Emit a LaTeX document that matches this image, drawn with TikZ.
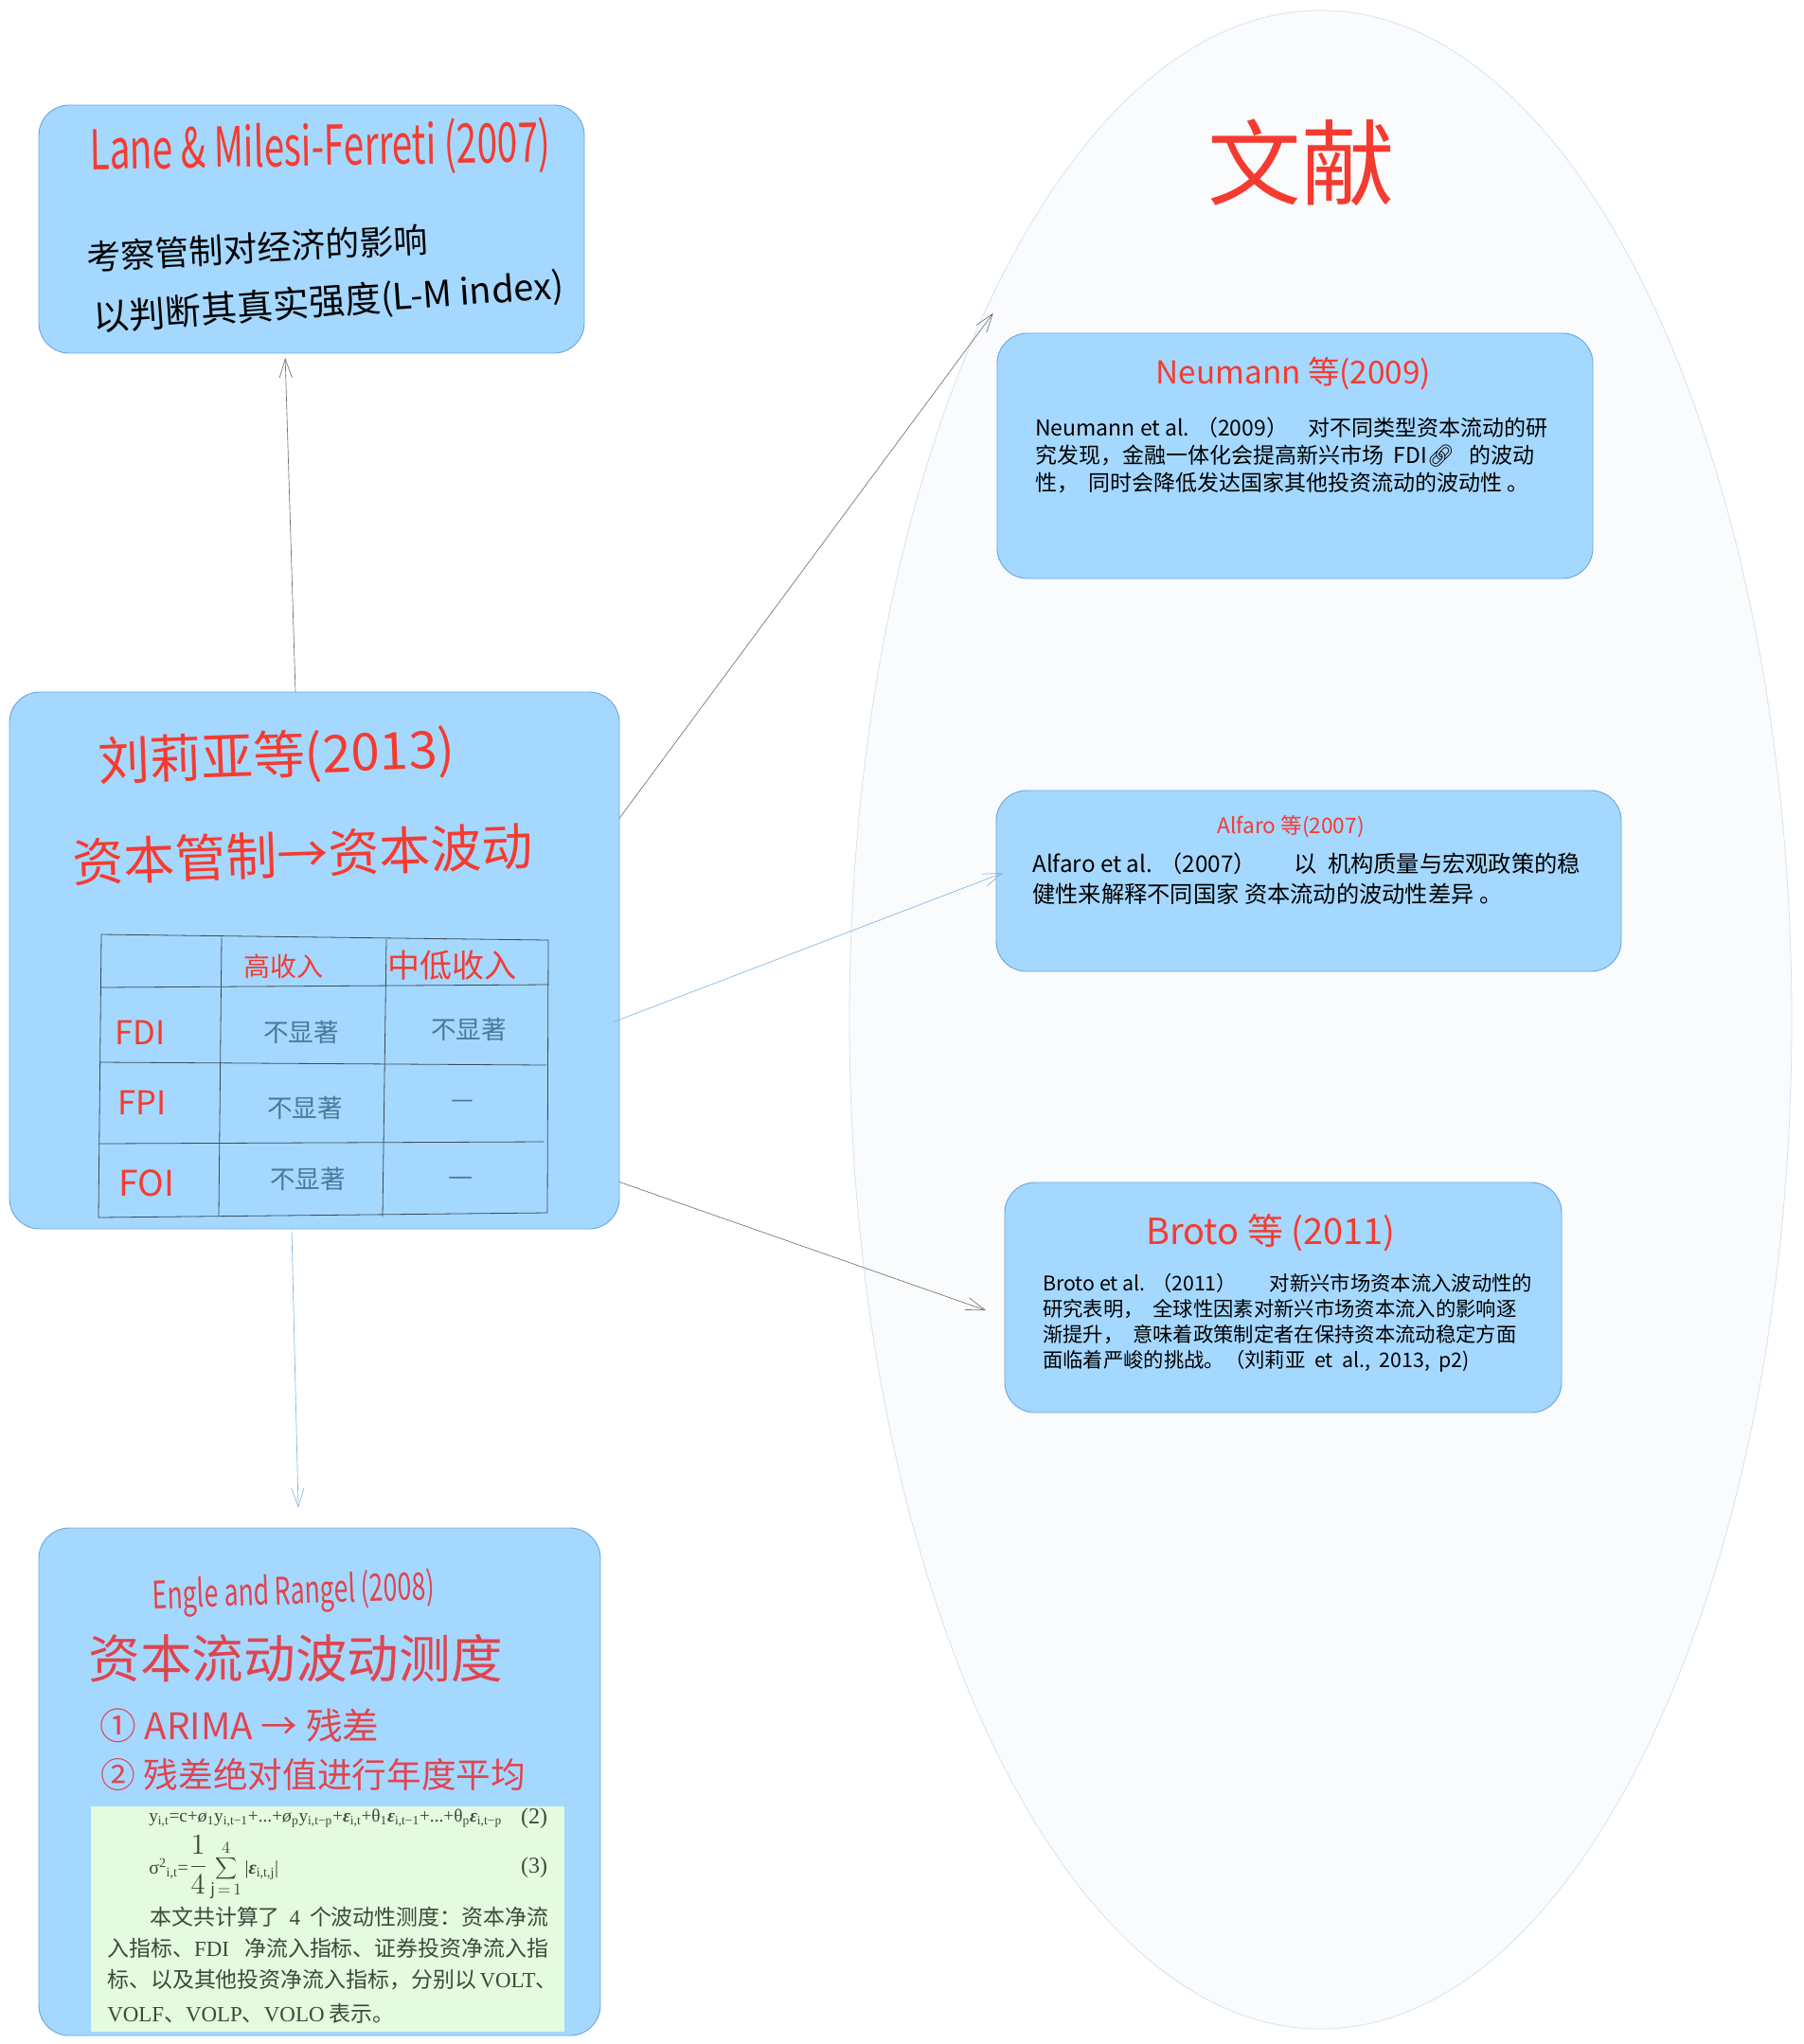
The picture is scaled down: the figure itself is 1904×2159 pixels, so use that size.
\documentclass[tikz,border=0pt]{standalone}
\usepackage{fontspec}
\setmainfont{Noto Sans CJK SC}
\newfontfamily\timesfont{Liberation Serif}
\newfontfamily\emojifont{Noto Emoji}
\usetikzlibrary{arrows.meta,fit}
\definecolor{boxblue}{HTML}{A5D8FF}
\definecolor{boxline}{HTML}{6AA8E0}
\definecolor{inkred}{HTML}{F53B30}
\definecolor{inkrose}{HTML}{E0454F}
\definecolor{inkblue}{HTML}{4A7A9A}
\definecolor{paleblue}{HTML}{D3E3F2}
\definecolor{palegreen}{HTML}{E4FBE0}
\definecolor{printink}{HTML}{3C4A3C}
\newcommand{\fsz}[2]{\fontsize{#1}{#2}\selectfont}
\newcommand{\tall}[1]{\scalebox{1}[1.5]{#1}}
\tikzset{
  card/.style={draw=boxline,fill=boxblue,line width=0.7pt,rounded corners=24pt,inner sep=0pt,outer sep=0pt},
  hand/.style={inner sep=0pt,text=inkred},
  note/.style={anchor=north west,inner sep=0pt,align=left,text=black},
  ruling/.style={draw=black!65!boxblue,line width=0.6pt},
  graylink/.style={draw=black!55,line width=0.5pt,-{Straight Barb[length=15pt,width=10pt]}},
  bluelink/.style={draw=boxline!85,line width=0.5pt,-{Straight Barb[length=15pt,width=10pt]}},
  printline/.style={inner sep=0pt,anchor=west,text=printink,font=\fsz{17.2}{20}},
}
\begin{document}
\begin{tikzpicture}[x=0.75pt,y=0.75pt,yscale=-1]
\useasboundingbox (0,0) rectangle (1904,2159);

% big ellipse
\draw [draw=paleblue,fill=paleblue!14,line width=0.6pt] (1394.5,1077) ellipse (497.5 and 1066);
\node [hand,font=\fsz{74}{76}] (wenxian) at (1374,172) {文献};

% cards
\node [card,fit={(41,111) (617,373)}] (lane) {};
\node [card,fit={(10,731) (654,1298)}] (liu) {};
\node [card,fit={(41,1614) (634,2150)}] (engle) {};
\node [card,fit={(1053,352) (1682,611)}] (neumann) {};
\node [card,fit={(1052,835) (1712,1026)}] (alfaro) {};
\node [card,fit={(1061,1249) (1649,1492)}] (broto) {};

% links
\draw [graylink,shorten >=3.75pt] ([xshift=-15pt]liu.north) -- ([xshift=-21pt]lane.south);
\draw [graylink,shorten >=-20pt] (liu.25) -- ([xshift=-15pt]neumann.north west);
\draw [bluelink,shorten <=-5pt,shorten >=-6pt] (liu.-11.4) -- (alfaro.179);
\draw [graylink,shorten >=15.7pt] (liu.-36.5) -- (broto.184.6);
\draw [bluelink,shorten <=2pt,shorten >=16pt] ([xshift=-18pt]liu.south) -- ([xshift=-16.5pt]engle.north);

% lane card
\node [hand,rotate=1,font=\fsz{29}{42}] (lanetitle) at (338,157) {\tall{Lane \& Milesi-Ferreti (2007)}};
\node [hand,text=black,rotate=3,font=\fsz{27}{30}] (lanea) at (272,262) {考察管制对经济的影响};
\node [hand,text=black,rotate=4,font=\fsz{28.5}{30}] (laneb) at (347,320) {以判断其真实强度(L-M index)};

% liu card
\node [hand,rotate=2,font=\fsz{41}{42}] (liutitle) at (292,800) {刘莉亚等(2013)};
\node [hand,rotate=2,font=\fsz{40.5}{42}] (liusub) at (320,902) {资本管制→资本波动};

% table
\coordinate (ta) at (107,987); \coordinate (tb) at (234,990); \coordinate (tc) at (408,992); \coordinate (td) at (579,993);
\coordinate (te) at (106,1043); \coordinate (tf) at (580,1040);
\coordinate (tg) at (106,1122); \coordinate (th) at (577,1125);
\coordinate (ti) at (105,1208); \coordinate (tj) at (574,1206);
\coordinate (tk) at (104,1286); \coordinate (tl) at (231,1284); \coordinate (tm) at (404,1285); \coordinate (tn) at (578,1281);
\draw [ruling] (ta) -- (td) -- (tn) -- (tk) -- cycle;
\draw [ruling] (tb) -- (tl);
\draw [ruling] (tc) -- (tm);
\draw [ruling] (te) -- (tf);
\draw [ruling] (tg) -- (th);
\draw [ruling] (ti) -- (tj);

\node [hand,font=\fsz{21}{22}] (high) at (299,1021) {高收入};
\node [hand,font=\fsz{25.5}{26}] (low) at (477,1020) {中低收入};
\node [hand,font=\fsz{26}{28}] (fdi) at (148,1091) {FDI};
\node [hand,font=\fsz{26}{28}] (fpi) at (150,1165) {FPI};
\node [hand,font=\fsz{28}{30}] (foi) at (155,1250) {FOI};
\foreach \name/\px/\py in {fdia/318/1090,fdib/495/1087,fpia/322/1170,foia/325/1245}
  \node [hand,text=inkblue,font=\fsz{20}{22}] (\name) at (\px,\py) {不显著};
\node [hand,text=inkblue,font=\fsz{20}{22}] (fpib) at (488,1166) {—};
\node [hand,text=inkblue,font=\fsz{22}{22}] (foib) at (487,1248) {—};

% engle card
\node [hand,text=inkrose,rotate=2,font=\fsz{20}{30}] (engletitle) at (310,1683) {\tall{Engle and Rangel (2008)}};
\node [hand,text=inkrose,font=\fsz{41}{42}] (englesub) at (312,1752) {资本流动波动测度};
\node [hand,text=inkrose,font=\fsz{29}{32}] (stepa) at (253,1823) {① ARIMA → 残差};
\node [hand,text=inkrose,font=\fsz{27.5}{30}] (stepb) at (331,1874) {② 残差绝对值进行年度平均};

\node [fill=palegreen,inner sep=0pt,fit={(96,1908) (596,2146)}] (clip) {};
\node [inner sep=0pt,anchor=west,text=printink,font=\timesfont\fsz{14.5}{18}] (eqa) at (157,1921)
  {y\textsubscript{i,t}=c+\textit{ø}\textsubscript{1}y\textsubscript{i,t−1}+...+\textit{ø}\textsubscript{p}y\textsubscript{i,t−p}+\textit{\textbf{ε}}\textsubscript{i,t}+θ\textsubscript{1}\textit{\textbf{ε}}\textsubscript{i,t−1}+...+θ\textsubscript{p}\textit{\textbf{ε}}\textsubscript{i,t−p}};
\node [inner sep=0pt,anchor=west,text=printink,font=\timesfont\fsz{15}{18}] (eqb) at (157,1973)
  {σ\textsuperscript{2}\textsubscript{i,t}=\scalebox{1.6}{$\displaystyle\frac{1}{4}$}\,\scalebox{1.2}{$\displaystyle\sum_{\mathrm{j}\,=\,1}^{4}$}\,|\textit{\textbf{ε}}\textsubscript{i,t,j}|};
\node [inner sep=0pt,text=printink,font=\timesfont\fsz{18}{20}] (numa) at (564,1921) {(2)};
\node [inner sep=0pt,text=printink,font=\timesfont\fsz{18}{20}] (numb) at (564,1973) {(3)};
\node [printline] (linea) at (158,2025) {\hbox to 315.75pt{本文共计算了 {\timesfont 4} 个波动性测度：资本净流}};
\node [printline] (lineb) at (113,2058) {\hbox to 349.5pt{入指标、{\timesfont FDI} 净流入指标、证券投资净流入指}};
\node [printline] (linec) at (113,2091) {\hbox to 349.5pt{标、以及其他投资净流入指标，分别以 {\timesfont VOLT}、}};
\node [printline] (lined) at (113,2127) {{\timesfont VOLF}、{\timesfont VOLP}、{\timesfont VOLO} 表示。};

% literature cards
\node [hand,font=\fsz{25}{28}] (neumanntitle) at (1366,395) {Neumann 等(2009)};
\node [note,font=\fsz{17.25}{21.75}] (neumanntext) at (1093,441)
  {Neumann et al. （2009）\hspace{16pt}对不同类型资本流动的研\\
   究发现，金融一体化会提高新兴市场 \ FDI{\emojifont 🔗} \ \ 的波动\\
   性，\ \ 同时会降低发达国家其他投资流动的波动性 。};

\node [hand,font=\fsz{17}{19}] (alfarotitle) at (1363,873) {Alfaro 等(2007)};
\node [note,font=\fsz{18.2}{24}] (alfarotext) at (1090,900)
  {Alfaro et al. （2007）\hspace{30pt}以 \ 机构质量与宏观政策的稳\\
   健性来解释不同国家 资本流动的波动性差异 。};

\node [hand,font=\fsz{28.5}{32}] (brototitle) at (1342,1302) {Broto 等 (2011)};
\node [note,font=\fsz{16}{20.2}] (brototext) at (1101,1345)
  {Broto et al. （2011）\hspace{26pt}对新兴市场资本流入波动性的\\
   研究表明，\ \ 全球性因素对新兴市场资本流入的影响逐\\
   渐提升，\ \ 意味着政策制定者在保持资本流动稳定方面\\
   面临着严峻的挑战。（刘莉亚\ \ et\ \ al.,\ \ 2013,\ \ p2)};
\end{tikzpicture}
\end{document}
